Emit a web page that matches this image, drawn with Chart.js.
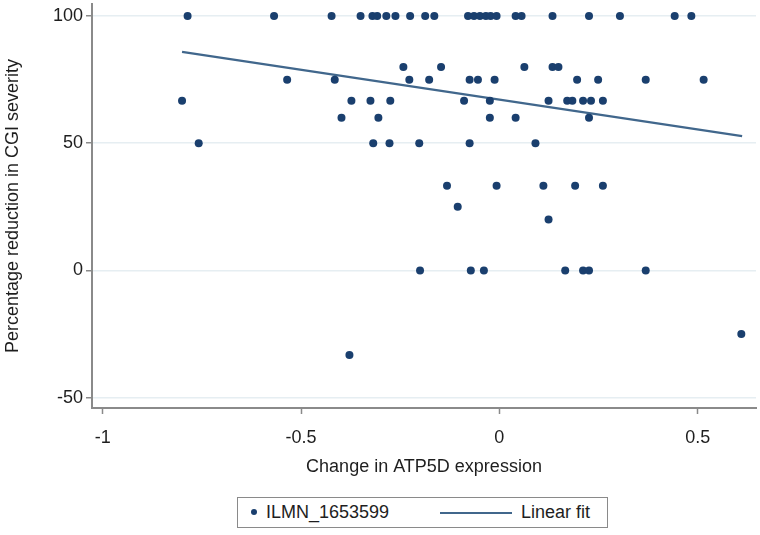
<!DOCTYPE html>
<html><head><meta charset="utf-8">
<script src="https://cdn.jsdelivr.net/npm/chart.js@4.4.1/dist/chart.umd.min.js"></script>
<style>
html,body{margin:0;padding:0;background:#fff;}
#wrap{position:relative;width:760px;height:535px;overflow:hidden;}
#c{position:absolute;left:0;top:0;}
#legend{position:absolute;left:237px;top:497px;width:371px;height:31px;border:1px solid #8a8a8a;box-sizing:border-box;background:#fff;
  font-family:"Liberation Sans",Arial,sans-serif;font-size:18px;color:#1e1e1e;}
#legend .it{position:absolute;top:0;height:29px;line-height:29px;white-space:nowrap;}
</style></head>
<body><div id="wrap"><canvas id="c" width="760" height="535"></canvas><div id="legend"></div></div>
<script>
// ---- data ----
const xTicks = [-1, -0.5, 0, 0.5];
const yTicks = [-50, 0, 50, 100];
const seriesLabel = "ILMN_1653599";
const fitLabel = "Linear fit";
const xTitle = "Change in ATP5D expression";
const yTitle = "Percentage reduction in CGI severity";

const atp5dChange = [
  -0.786,-0.568,-0.423,-0.350,-0.320,-0.308,-0.285,-0.262,-0.225,-0.187,-0.164,-0.079,-0.064,-0.049,-0.034,-0.022,-0.007,0.041,0.056,0.134,0.226,0.304,0.442,0.484,
  -0.242,-0.147,0.063,0.134,0.149,
  -0.535,-0.415,-0.227,-0.177,-0.075,-0.054,-0.012,0.196,0.249,0.369,0.515,
  -0.800,-0.373,-0.325,-0.275,-0.089,-0.024,0.124,0.171,0.184,0.211,0.231,0.261,
  -0.398,-0.305,-0.024,0.041,0.226,
  -0.758,-0.318,-0.277,-0.202,-0.075,0.091,
  -0.132,-0.007,0.111,0.191,0.261,
  -0.105,
  0.124,
  -0.200,-0.072,-0.039,0.166,0.211,0.226,0.369,
  0.610,
  -0.378
];
const cgiReduction = [
  100,100,100,100,100,100,100,100,100,100,100,100,100,100,100,100,100,100,100,100,100,100,100,100,
  80,80,80,80,80,
  75,75,75,75,75,75,75,75,75,75,75,
  66.7,66.7,66.7,66.7,66.7,66.7,66.7,66.7,66.7,66.7,66.7,66.7,
  60,60,60,60,60,
  50,50,50,50,50,50,
  33.3,33.3,33.3,33.3,33.3,
  25,
  20,
  0,0,0,0,0,0,0,
  -25,
  -33.3
];
const fitX = [-0.800, 0.612];
const fitY = [85.9, 52.8];

// ---- styles ----
const FONT = '"Liberation Sans", Arial, sans-serif';
const TEXT = '#1e1e1e';
const AXIS = '#8a8a8a';
const GRID = '#e6eef2';
const DOT = '#1a3f6e';
const FITC = '#41678c';

const points = atp5dChange.map((x, i) => ({x, y: cgiReduction[i]}));
const fitPts = fitX.map((x, i) => ({x, y: fitY[i]}));

const chart = new Chart(document.getElementById('c'), {
  type: 'scatter',
  data: {
    datasets: [
      {label: seriesLabel, data: points, backgroundColor: DOT, borderWidth: 0, pointRadius: 4, pointHoverRadius: 4},
      {label: fitLabel, type: 'line', data: fitPts, borderColor: FITC, borderWidth: 2.3, pointRadius: 0, fill: false, showLine: true}
    ]
  },
  options: {
    responsive: false,
    animation: false,
    devicePixelRatio: 1,
    layout: {padding: {left: 0, right: 0, top: 0, bottom: 57}},
    plugins: {legend: {display: false}, tooltip: {enabled: false}},
    scales: {
      x: {
        type: 'linear', min: -1.027, max: 0.647,
        afterBuildTicks: s => { s.ticks = xTicks.map(v => ({value: v})); },
        afterFit: s => { s.height = 70; s.paddingLeft = 0; s.paddingRight = 0; },
        border: {display: true, color: AXIS, width: 2},
        grid: {drawOnChartArea: false, drawTicks: true, tickLength: 6, tickColor: AXIS, tickWidth: 1.5},
        ticks: {font: {family: FONT, size: 18}, color: TEXT, padding: 13, maxRotation: 0, callback: v => String(v)},
        title: {display: true, text: xTitle, font: {family: FONT, size: 18}, color: TEXT, padding: {top: 0, bottom: 0}}
      },
      y: {
        type: 'linear', min: -54.1, max: 104.75,
        afterBuildTicks: s => { s.ticks = yTicks.map(v => ({value: v})); },
        afterFit: s => { s.width = 92; s.paddingTop = 0; s.paddingBottom = 0; },
        border: {display: true, color: AXIS, width: 2},
        grid: {color: GRID, lineWidth: 1.5, drawTicks: true, tickLength: 6, tickColor: AXIS, tickWidth: 1.5},
        ticks: {font: {family: FONT, size: 18}, color: TEXT, padding: 3, callback: v => String(v)},
        title: {display: true, text: yTitle, font: {family: FONT, size: 18}, color: TEXT, padding: {top: 2, bottom: 0}}
      }
    }
  }
});

// HTML legend built from the chart's datasets
const lg = document.getElementById('legend');
const ds = chart.data.datasets;
lg.innerHTML =
  '<div class="it" style="left:13px;"><span style="display:inline-block;width:6px;height:6px;border-radius:50%;background:' + ds[0].backgroundColor + ';vertical-align:middle;margin-right:9px;position:relative;top:-1px;"></span>' + ds[0].label + '</div>' +
  '<div class="it" style="left:202px;"><span style="display:inline-block;width:72px;height:2px;background:' + ds[1].borderColor + ';vertical-align:middle;margin-right:9px;"></span>' + ds[1].label + '</div>';
</script>
</body></html>
